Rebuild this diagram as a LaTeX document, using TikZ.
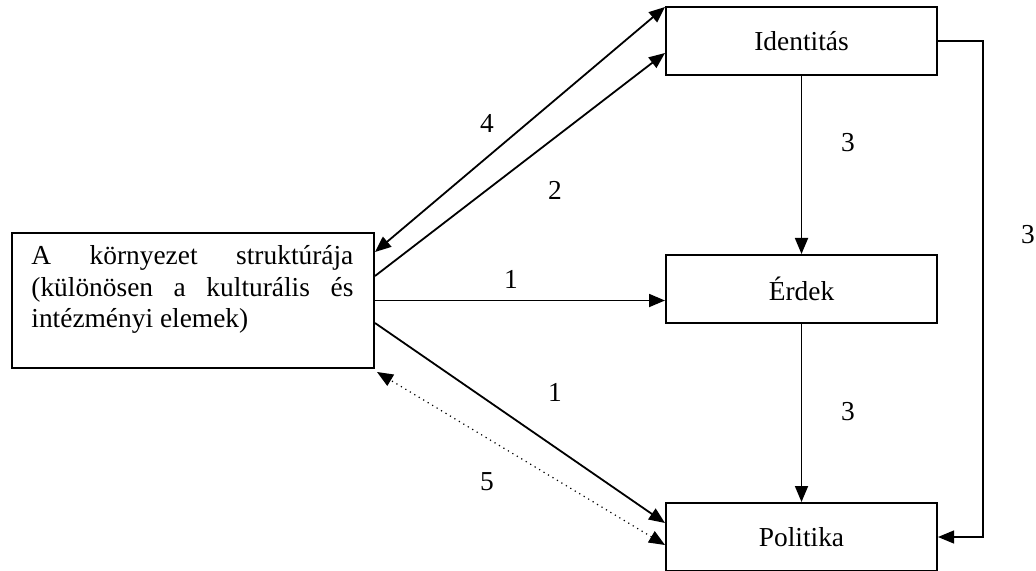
\documentclass[tikz,border=0pt]{standalone}
\usepackage{fontspec}
\setmainfont{Liberation Serif}
\usetikzlibrary{arrows.meta,calc}
\tikzstyle{block}=[rectangle, draw, line width=1pt, minimum width=135.5pt, minimum height=34pt, inner sep=0pt, font=\fontsize{13.7}{15.8}\selectfont]
\tikzstyle{num}=[inner sep=0pt, font=\fontsize{13.7}{15.8}\selectfont]
\tikzstyle{link}=[-{Triangle[length=8pt,width=6.5pt]}, line width=0.9pt]
\tikzstyle{twoway}=[{Triangle[length=8pt,width=6.5pt]}-{Triangle[length=8pt,width=6.5pt]}]
\newcommand{\block}{\node[block]}
\newcommand{\num}{\node[num]}

\begin{document}
\begin{tikzpicture}[x=0.5pt, y=-0.5pt]
\useasboundingbox (0,0) rectangle (1036,571);
\block (ident) at (801.5,41) {Identitás};
\block (erdek) at (801.5,289) {Érdek};
\block (pol) at (801.5,537) {Politika};
\block[minimum width=181pt, minimum height=67.5pt] (env) at (193,300.5) {};
\node[num, anchor=north west, text width=161pt, align=justify] (envtext) at ($(env.north west)+(20,13)$)
	{A környezet struktúrája\break (különösen a kulturális és\break intézményi elemek)};
\draw[link, twoway] ($(ident.north west)+(0,1)$) -- ($(env.north east)+(0,20)$);
\draw[link] ($(env.north east)+(0,44)$) -- ($(ident.west)+(0,12)$);
\draw[link] (env.east) -- (env.east -| erdek.west);
\draw[link] ($(env.east)+(0,22.5)$) -- ($(pol.north west)+(0,21)$);
\draw[twoway, dotted, line width=0.6pt]
	($(pol.north west)+(0,43)$) -- ($(env.south east)+(2,3)$);
\draw[link] (ident) -- (erdek);
\draw[link] (erdek) -- (pol);
\draw[link, line width=0.6pt] (ident.east) -- ++(45,0) |- (pol.east);
\num (n4) at (487,123) {4};
\num (n2) at (555,190) {2};
\num (n1a) at (511,279) {1};
\num (n1b) at (555,392) {1};
\num (n5) at (487,482) {5};
\num (n3a) at (848,143) {3};
\num (n3b) at (848,412) {3};
\num (n3c) at (1028,235) {3};
\end{tikzpicture}
\end{document}
